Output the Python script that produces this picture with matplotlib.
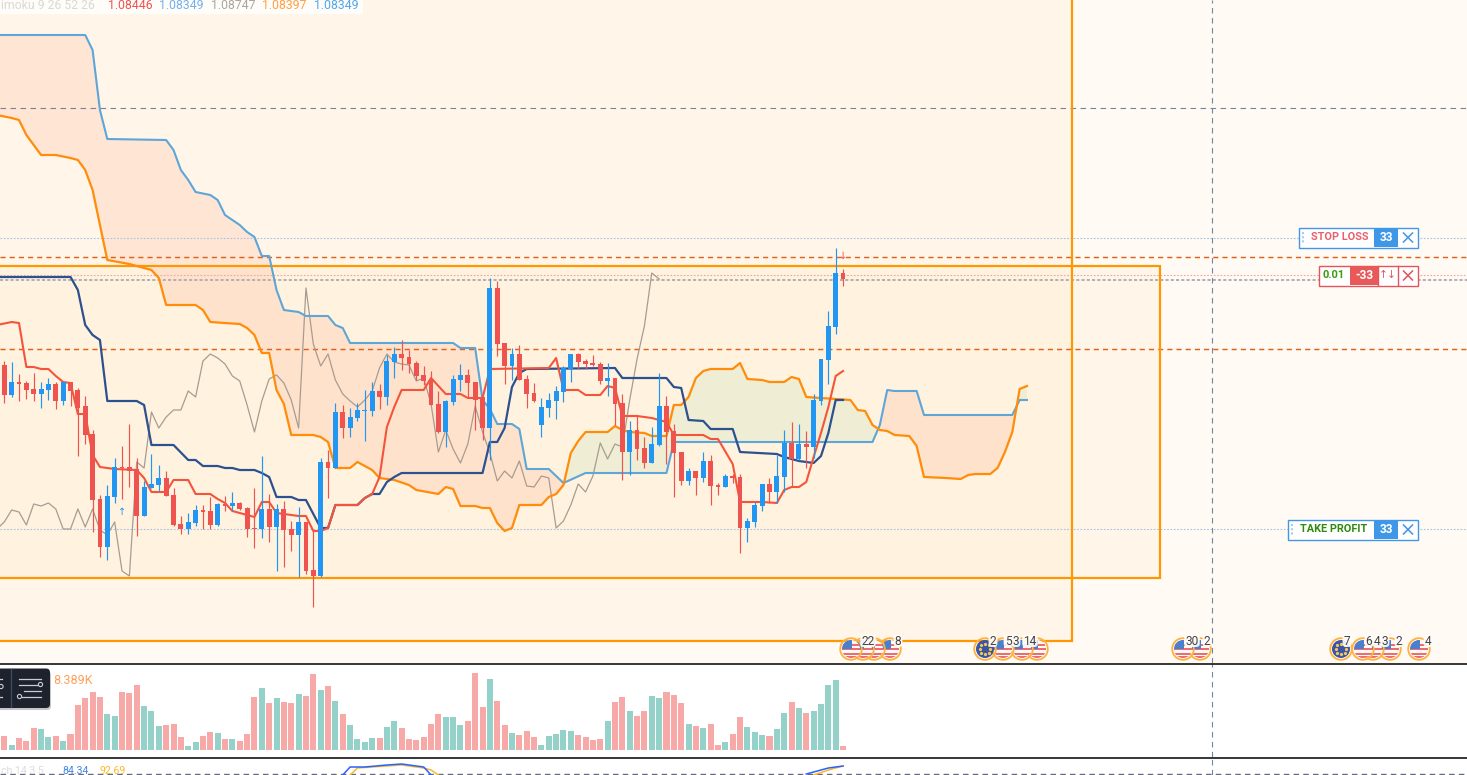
import numpy as np
import matplotlib
matplotlib.use("Agg")
import matplotlib.pyplot as plt
from matplotlib.patches import Rectangle, Circle, FancyBboxPatch

plt.rcParams['font.family'] = ['Roboto', 'DejaVu Sans']

# ---- price data, in ticks above 1.08000 (one tick = 1/30000) ----
opens = [140,110,123,122,116,111,115,121,104,123,115,99,71,6,-42,8,38,38,36,-11,17,20,27,10,-19,-24,-18,-5,-6,-20,
         1,-1,2,-3,-23,-24,-4,-22,-4,-24,-30,-17,-65,-71,43,37,93,77,87,94,94,114,108,143,151,148,142,130,126,101,
         73,103,125,130,123,108,77,217,162,139,151,126,112,80,97,104,113,136,151,144,142,141,124,127,102,53,75,57,42,60,
         99,74,53,24,34,27,44,20,18,29,28,-23,-17,-1,21,13,28,62,46,61,58,104,145,178,232]
highs = [144,143,131,124,132,123,127,123,123,123,117,109,75,10,20,47,59,81,47,24,51,40,34,17,-11,-8,0,0,8,2,
         9,13,3,-2,17,49,11,1,4,-16,-2,-17,-25,47,55,102,100,97,102,115,123,121,150,158,165,155,144,139,134,114,
         105,130,141,136,123,108,227,224,162,157,160,130,122,107,112,119,139,151,152,146,150,143,142,127,111,84,90,68,78,132,
         109,81,53,37,34,53,50,22,31,31,31,-13,3,21,27,50,75,83,81,74,111,146,194,257,236]
lows = [102,108,104,106,104,97,105,96,100,99,49,61,-27,-52,-55,2,6,18,-31,-11,17,14,9,-21,-29,-29,-21,-24,-24,-21,
        -6,-6,-5,-32,-43,-33,-37,-66,-62,-46,-72,-69,-102,-72,7,37,67,68,84,64,89,96,100,127,135,132,125,120,100,72,
        58,100,114,108,75,65,45,149,121,125,125,97,103,68,88,86,103,123,136,136,139,121,109,80,25,30,45,37,42,59,
        41,8,20,20,10,23,0,10,18,22,-48,-37,-22,-6,2,2,13,18,45,37,47,100,121,171,219]
closes = [110,123,121,115,111,116,121,104,123,114,97,70,5,-42,9,38,37,34,-11,18,21,27,9,-20,-24,-17,-5,-7,-20,1,
          -1,2,-4,-24,-24,-4,-22,-4,-25,-30,-17,-66,-71,43,37,93,77,88,95,95,114,108,144,151,147,141,129,124,100,73,
          104,126,130,122,105,77,217,161,139,151,125,111,104,98,105,114,137,151,143,141,140,124,127,101,53,75,56,42,61,99,
          73,52,24,34,27,44,19,18,29,27,-23,-16,0,21,13,29,62,46,61,58,105,146,179,232,226]
volumes = [14,5,12,9,22,21,13,14,9,16,45,52,58,53,36,34,58,57,65,44,39,24,25,26,13,4,8,14,18,17,
           11,11,9,16,53,62,47,52,48,47,56,54,76,60,64,49,36,25,11,8,12,12,23,29,22,11,10,13,26,36,
           33,33,25,29,77,43,71,49,25,17,15,19,13,5,14,16,20,19,15,13,10,11,29,48,53,39,34,39,54,52,
           58,55,47,26,24,22,26,5,8,16,33,23,18,15,14,21,37,48,42,37,39,46,65,70,4]

# Ichimoku lines: bar numbers and levels
tenkan_bars = [-1,1,2,3,4,5,6,7,8,9,10,11,12,13,14,15,18,19,20,22,23,25,26,28,29,30,31,33,34,35,36,37,40,41,42,43,44,45,48,49,50,51,52,53,54,57,58,60,62,63,65,66,74,75,76,78,79,81,82,83,84,86,88,89,90,91,95,96,97,99,100,103,105,106,107,108,109,110,111,112,113,114]
tenkan = [180,183,182,138,138,136,136,129,123,122,91,91,50,38,37,36,35,27,13,13,25,25,11,11,6,2,-6,-10,-12,3,3,-8,-11,-11,-26,-26,-23,0,0,7,11,28,78,98,115,115,127,111,111,107,107,136,137,147,115,115,110,110,119,117,89,89,87,85,83,70,70,66,66,41,3,3,2,15,18,18,23,48,72,98,129,134]
kijun_bars = [-1,9,10,11,12,13,14,18,19,20,23,25,26,27,29,30,31,32,34,35,36,37,39,40,41,43,44,45,48,49,50,51,52,53,54,65,66,67,68,69,70,71,83,84,90,91,92,93,95,96,99,100,105,106,108,110,111,112,113,114]
kijun = [228,228,215,180,170,165,104,104,100,60,60,45,45,39,39,37,37,35,35,32,28,8,8,5,5,-23,-23,0,0,7,11,11,23,28,32,32,63,63,77,118,132,136,137,127,127,118,117,85,84,76,76,53,51,48,44,42,49,72,105,105]
span_a_bars = [-1,1,2,3,5,7,9,10,11,12,13,14,17,19,20,21,22,26,27,28,32,33,34,35,36,37,38,39,42,43,44,45,47,48,50,51,53,55,56,59,60,61,62,64,65,66,67,68,69,70,73,74,75,76,77,78,79,82,83,84,85,87,88,90,91,92,93,94,95,96,99,100,101,103,104,106,107,108,109,111,113,115,116,117,118,119,120,121,123,124,125,128,130,131,132,134,135,136,137,138,139]
span_a = [390,387,385,370,350,350,347,345,335,315,280,245,241,237,235,227,200,200,195,183,181,177,170,152,152,115,101,70,70,68,63,37,37,43,35,27,25,20,15,11,18,16,-1,-1,-3,-3,-18,-26,-23,0,0,8,11,20,52,64,73,73,79,75,73,72,69,69,100,100,108,127,134,136,136,142,126,125,123,123,128,126,108,107,106,105,95,94,80,75,74,70,69,59,28,27,26,30,31,31,37,53,73,116,119]
span_b_bars = [-1,11,12,13,14,22,23,24,25,26,28,29,30,32,33,34,35,36,37,38,40,41,44,45,46,47,61,62,64,65,66,67,69,70,71,74,76,79,90,91,118,119,120,121,124,125,137,138,139]
span_b = [470,470,455,395,366,365,355,335,325,313,310,305,290,280,273,268,249,249,215,195,193,189,189,180,177,162,162,157,157,105,96,81,81,76,36,36,22,32,32,63,63,80,115,114,114,90,90,105,105]

# Price levels of the drawn objects, in the same ticks
level_grid = [397]
level_stop = [267]
level_orange = [248, 156]
level_pink = [230]
level_current = [225]
level_take = [-24]
box_wide = (239, -73, 157.1)
box_tall = (-136, 145.1)
time_line = 164.2

# Oscillator pane
stoch_k_bars = [46,47,49,52,54,57,58]
stoch_k = [78,94,94,98,100,94,78]
stoch_d_bars = [47,48,52,54,57,58,59]
stoch_d = [78,92,96,98,92,88,78]
stoch_k2_bars = [109,112,114]
stoch_k2 = [80,92,96]
stoch_d2_bars = [110,112,114]
stoch_d2 = [78,88,96]

legend_name = "imoku 9 26 52 26"
legend_values = ["1.08446","1.08349","1.08747","1.08397","1.08349"]
volume_label = "8.389K"


def P(t):
    return 1.08 + np.asarray(t, dtype=float) / 30000.0


W, H = 1467, 775
BG = '#fffaf3'
C_UP, C_DN = '#2196f3', '#ef5350'
V_UP, V_DN = '#93d1c9', '#f7a9a8'

fig = plt.figure(figsize=(W/100, H/100), dpi=100, facecolor='white')


def pane(top, bottom, face):
    a = fig.add_axes([0, 1 - bottom/H, 1, (bottom-top)/H], facecolor=face)
    a.set_xlim(-0.584, 198.8)
    a.set_xticks([]); a.set_yticks([])
    for s in a.spines.values():
        s.set_visible(False)
    return a


ax = pane(0, 663, BG)
ax.set_ylim(P(-158), P(505))

opens_a, closes_a, highs_a, lows_a = map(np.array, (opens, closes, highs, lows))
bars = np.arange(len(opens))
up = closes_a >= opens_a

# range boxes: tint
ax.add_patch(Rectangle((-5, P(box_wide[1])), box_wide[2]+5, P(box_wide[0])-P(box_wide[1]),
                       fc='#ff9800', alpha=0.04, ec='none', zorder=1))
ax.add_patch(Rectangle((-5, P(box_tall[0])), box_tall[1]+5, P(520)-P(box_tall[0]),
                       fc='#ff9800', alpha=0.04, ec='none', zorder=1))

# cloud
grid = np.linspace(-1, 139, 2801)
a_i = np.interp(grid, span_a_bars, span_a)
b_i = np.interp(grid, span_b_bars, span_b)
ax.fill_between(grid, P(a_i), P(b_i), where=a_i < b_i, interpolate=True, color='#ff8a5c', alpha=0.15, lw=0, zorder=2)
ax.fill_between(grid, P(a_i), P(b_i), where=a_i >= b_i, interpolate=True, color='#afdca3', alpha=0.2, lw=0, zorder=2)

# horizontal levels
for v in level_grid:
    ax.axhline(P(v), color='#76839a', lw=0.8, dashes=(5, 4), zorder=3)
for v in level_stop + level_take:
    ax.axhline(P(v), color='#a5c4e6', lw=0.8, dashes=(1.5, 1.5), zorder=3)
for v in level_orange:
    ax.axhline(P(v), color='#e0621a', lw=1.05, dashes=(3.5, 2.8), zorder=3)
for v in level_pink:
    ax.axhline(P(v), color='#efa5a0', lw=0.8, dashes=(1.5, 1.5), zorder=3)
for v in level_current:
    ax.axhline(P(v), color='#b3aeb6', lw=1.4, dashes=(1.6, 1.1), zorder=3)

# outlines
ax.plot([-5, box_wide[2], box_wide[2], -5], P([box_wide[0], box_wide[0], box_wide[1], box_wide[1]]),
        color='#ff9800', lw=1.6, zorder=4, solid_joinstyle='miter')
ax.plot([box_tall[1], box_tall[1], -5], [P(520), P(box_tall[0]), P(box_tall[0])],
        color='#ff9800', lw=1.6, zorder=4, solid_joinstyle='miter')

# ichimoku lines
ax.plot(bars-25, P(closes_a), color='#a89c92', lw=0.9, zorder=5)
ax.plot(span_b_bars, P(span_b), color='#5ea5d8', lw=1.5, zorder=5)
ax.plot(span_a_bars, P(span_a), color='#ff8c0a', lw=1.6, zorder=5)
ax.plot(kijun_bars, P(kijun), color='#2c5190', lw=1.6, zorder=5)
ax.plot(tenkan_bars, P(tenkan), color='#f4553a', lw=1.5, zorder=5)

# candles
colors = np.where(up, C_UP, C_DN)
ax.vlines(bars, P(lows_a), P(highs_a), colors=colors, lw=0.85, zorder=6)
ax.bar(bars, P(closes_a)-P(opens_a), bottom=P(opens_a), width=0.66, color=colors, lw=0, zorder=7)
ax.text(16, P(-7), '↑', color=C_UP, fontsize=7, ha='center', va='center', family='DejaVu Sans', zorder=8)
ax.text(114, P(249), '↓', color=C_DN, fontsize=7, ha='center', va='center', family='DejaVu Sans', zorder=8)
ax.axvline(time_line, color='#6f87a3', lw=0.8, dashes=(5, 4), zorder=8)

# volume pane
ax_v = pane(664, 757, 'white')
ax_v.set_ylim(-7, 86)
ax_v.bar(bars, volumes, width=0.82, color=np.where(up, V_UP, V_DN), lw=0)
ax_v.axvline(time_line, color='#6f87a3', lw=0.8, dashes=(5, 4))

# oscillator pane
ax_s = pane(758, 775, 'white')
ax_s.set_ylim(78, 112)
ax_s.axhline(80, color='#666a75', lw=1.0, dashes=(4, 3))
for bx, vv, col in ((stoch_d_bars, stoch_d, '#fbb82e'), (stoch_d2_bars, stoch_d2, '#fbb82e'),
                    (stoch_k_bars, stoch_k, '#2962ff'), (stoch_k2_bars, stoch_k2, '#2962ff')):
    ax_s.plot(bx, vv, color=col, lw=1.1)
ax_s.axvline(time_line, color='#6f87a3', lw=0.8, dashes=(5, 4))

# ---- overlay in picture pixels: panel rules, labels, widgets ----
ov = fig.add_axes([0, 0, 1, 1], facecolor='none')
ov.set_xlim(0, W); ov.set_ylim(H, 0); ov.axis('off')
ov.plot([0, W], [663.5, 663.5], color='black', lw=1.1, zorder=2)
ov.plot([0, W], [757.5, 757.5], color='black', lw=1.1, zorder=2)

# legend strip
ov.add_patch(Rectangle((0, 0), 363, 13.5, fc='#fffdf9', ec='none', zorder=3))
FS = 8.8
ov.text(1, 5.5, legend_name, color='#dcd8d2', fontsize=FS, va='center', ha='left', zorder=4)
for tx, col, val in zip((108, 159, 211, 262, 314),
                        ('#ef5350', '#72b1ee', '#aaa69e', '#ff9f45', '#4fa8ee'), legend_values):
    ov.text(tx, 5.5, val, color=col, fontsize=FS, va='center', ha='left', zorder=4)

# volume tool tip
ov.add_patch(FancyBboxPatch((-12, 671), 63, 39, boxstyle='round,pad=0,rounding_size=4', fc='#8d8f94', ec='none', alpha=.5, zorder=3))
ov.add_patch(FancyBboxPatch((-12, 668.5), 62, 39.5, boxstyle='round,pad=0,rounding_size=4', fc='#1e222d', ec='none', zorder=4))
ov.plot([10.5, 10.5], [669, 707], color='#3d4a66', lw=1, zorder=5)
for x0, x1, yy in ((19, 41, 678.5), (19, 38, 684.5), (24, 41, 690.5), (22, 41, 696.5), (0, 2, 678.5), (0, 2, 697)):
    ov.plot([x0, x1], [yy, yy], color='#c9ccd3', lw=0.9, zorder=5)
for cx, cy in ((40.5, 684.5), (19.5, 696.5), (1, 686.5)):
    ov.add_patch(Circle((cx, cy), 2.1, fc='#1e222d', ec='#c9ccd3', lw=0.8, zorder=6))
ov.text(53, 680.5, volume_label, color='#ff9f5a', fontsize=9, va='center', ha='left', zorder=4)

# oscillator title along the bottom edge
ov.text(1, 774, 'ch 14 3 5', color='#dcdcdc', fontsize=7.6, va='baseline', ha='left', zorder=4)
ov.text(62, 774, '84.34', color='#3f8ae0', fontsize=7.6, va='baseline', ha='left', zorder=4)
ov.text(100, 774, '92.69', color='#fbb82e', fontsize=7.6, va='baseline', ha='left', zorder=4)


# order widgets
def cell(x0, x1, y0, y1, fc, ec='none', z=6):
    ov.add_patch(Rectangle((x0, y0), x1-x0, y1-y0, fc=fc, ec=ec, lw=1, zorder=z))


def cross(cx, cy, col, r=4.5):
    ov.plot([cx-r, cx+r], [cy-r, cy+r], color=col, lw=1.1, zorder=8)
    ov.plot([cx-r, cx+r], [cy+r, cy-r], color=col, lw=1.1, zorder=8)


def dots(x, y0, y1):
    ov.plot([x, x], [y0, y1], color='#a9cdf0', lw=1.5, dashes=(1, 1), zorder=8)


BL = '#4395e6'
cell(1298.5, 1417.5, 227.5, 247.5, 'white', BL)
cell(1374, 1398, 228, 247, '#3f97e8', z=7)
dots(1303, 232, 243)
ov.text(1339.5, 237.5, 'STOP LOSS', color='#e8606c', fontsize=7.8, fontweight='bold', ha='center', va='center', zorder=8)
ov.text(1386, 237.5, '33', color='white', fontsize=8.6, fontweight='bold', ha='center', va='center', zorder=8)
cross(1408, 237.5, BL)

RD = '#e2555e'
cell(1318.5, 1417.5, 265.5, 285.5, 'white', RD)
cell(1350, 1378, 266, 285, '#e85a5a', z=7)
ov.plot([1378, 1378], [266, 285], color=RD, lw=1, zorder=8)
ov.plot([1397.5, 1397.5], [266, 285], color=RD, lw=1, zorder=8)
ov.text(1334, 275.5, '0.01', color='#3a9a10', fontsize=8, fontweight='bold', ha='center', va='center', zorder=8)
ov.text(1364, 275.5, '-33', color='white', fontsize=8.4, fontweight='bold', ha='center', va='center', zorder=8)
ov.text(1383.6, 275, '↑', color=RD, fontsize=7.6, ha='center', va='center', family='DejaVu Sans', zorder=8)
ov.text(1391.4, 275, '↓', color=RD, fontsize=7.6, ha='center', va='center', family='DejaVu Sans', zorder=8)
cross(1408, 275.5, RD)

cell(1287.5, 1417.5, 519.5, 539.5, 'white', BL)
cell(1374, 1398, 520, 539, '#3f97e8', z=7)
dots(1292, 524, 536)
ov.text(1334, 529, 'TAKE PROFIT', color='#2d8a0a', fontsize=7.8, fontweight='bold', ha='center', va='center', zorder=8)
ov.text(1386, 529.5, '33', color='white', fontsize=8.6, fontweight='bold', ha='center', va='center', zorder=8)
cross(1408, 529.5, BL)


# economic calendar marks
def flag(cx, kind, z):
    cy = 649
    ov.add_patch(Circle((cx, cy), 10.8, fc='none', ec='#ffb13d', lw=1.3, zorder=z+.4))
    clip = Circle((cx, cy), 9, transform=ov.transData)
    if kind == 'eu':
        ov.add_patch(Circle((cx, cy), 9, fc='#3c54a8', ec='none', zorder=z+.1))
        for ang in np.arange(0, 360, 45):
            ov.plot(cx+5.2*np.cos(np.radians(ang)), cy+5.2*np.sin(np.radians(ang)), 'o', ms=1.3,
                    color='#f2c94c', zorder=z+.2)
    else:
        items = [Rectangle((cx-9.5, cy-9.5), 19, 19, fc='#fdf8f4', ec='none', zorder=z+.1)]
        for yy in (cy-5.5, cy-1, cy+3.5, cy+7):
            items.append(Rectangle((cx-9.5, yy), 19, 2.3, fc='#ee6b6e', ec='none', zorder=z+.2))
        items.append(Rectangle((cx-9.5, cy-9.5), 10, 9, fc='#4a7fd0', ec='none', zorder=z+.3))
        for it in items:
            ov.add_patch(it)
            it.set_clip_path(clip)


def tag(x, s, z):
    ov.add_patch(FancyBboxPatch((x-len(s)*3.4-1, 635), len(s)*6.8+2, 12, boxstyle='round,pad=0,rounding_size=3.5',
                                fc='white', ec='none', alpha=.9, zorder=z))
    ov.text(x, 641.3, s, color='#444444', fontsize=8.6, ha='center', va='center', zorder=z+.1)


us_marks = [851, 863, 874, 890, 1003, 1022, 1037, 1183, 1200, 1363, 1373, 1390, 1419]
eu_marks = [985, 1341]
ordered = sorted(us_marks + eu_marks)
for i, cx in enumerate(ordered):
    flag(cx, 'eu' if cx in eu_marks else 'us', 30-i)
for x, s in ((868, '22'), (898, '8'), (993, '2'), (1008, '5'), (1016, '3'), (1030, '14'), (1192, '30'),
             (1207, '2'), (1347, '7'), (1369, '6'), (1377, '4'), (1385, '3'), (1399, '2'), (1428, '4')):
    tag(x, s, 40)

fig.savefig('out.png', dpi=100, facecolor='white')
